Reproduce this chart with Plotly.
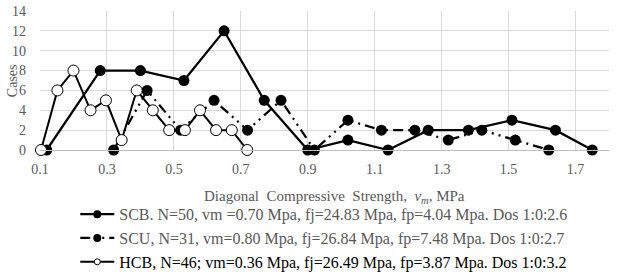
import plotly.graph_objects as go

# ---- data ----
scb_x = [0.12, 0.28, 0.40, 0.53, 0.65, 0.77, 0.90, 1.02, 1.14, 1.26, 1.38, 1.51, 1.64, 1.75]
scb_y = [0, 8, 8, 7, 12, 5, 0, 1, 0, 2, 2, 3, 2, 0]

scu_x = [0.32, 0.42, 0.52, 0.62, 0.72, 0.82, 0.92, 1.02, 1.12, 1.22, 1.32, 1.42, 1.52, 1.62]
scu_y = [0, 6, 2, 5, 2, 5, 0, 3, 2, 2, 1, 2, 1, 0]

hcb_x = [0.103, 0.152, 0.20, 0.251, 0.297, 0.344, 0.389, 0.437, 0.486, 0.533, 0.578, 0.626, 0.673, 0.719]
hcb_y = [0, 6, 8, 4, 5, 1, 6, 4, 2, 2, 4, 2, 2, 0]

names = [
    "<span style='color:#595959'>SCB. N=50, vm =0.70 Mpa, fj=24.83 Mpa, fp=4.04 Mpa. Dos 1:0:2.6</span>",
    "<span style='color:#595959'>SCU, N=31, vm=0.80 Mpa, fj=26.84 Mpa, fp=7.48 Mpa. Dos 1:0:2.7</span>",
    "<span style='color:#000000'>HCB, N=46; vm=0.36 Mpa, fj=26.49 Mpa, fp=3.87 Mpa. Dos 1:0:3.2</span>",
]
x_ticks = [0.1, 0.3, 0.5, 0.7, 0.9, 1.1, 1.3, 1.5, 1.7]
y_ticks = [0, 2, 4, 6, 8, 10, 12, 14]
x_title = "Diagonal\u00a0 Compressive\u00a0 Strength,\u00a0 <i>v<sub>m</sub></i>, MPa"
y_title = "Cases"

FONT = "Liberation Serif, Times New Roman, serif"
GRAY = "#595959"

series = [
    (scb_x, scb_y, names[0], dict(color="black", width=2.25), dict(symbol="circle", size=11, color="black"),
     dict(symbol="circle", size=8, color="black")),
    (scu_x, scu_y, names[1], dict(color="black", width=2.25, dash="10px,5px,2px,5px,2px,5px"),
     dict(symbol="circle", size=11, color="black"), dict(symbol="circle", size=8, color="black")),
    (hcb_x, hcb_y, names[2], dict(color="black", width=2),
     dict(symbol="circle", size=11, color="white", line=dict(color="black", width=1)),
     dict(symbol="circle", size=6, color="white", line=dict(color="black", width=1))),
]

fig = go.Figure()
for i, (xs, ys, nm, ln, mk, lmk) in enumerate(series):
    fig.add_trace(go.Scatter(x=xs, y=ys, name=nm, mode="lines+markers", line=ln, marker=mk,
                             cliponaxis=False, showlegend=False))
    # legend entry (same style, smaller marker as in the reference legend)
    fig.add_trace(go.Scatter(x=[None], y=[None], name=nm, mode="lines+markers", line=ln, marker=lmk,
                             legendgroup=f"g{i}", showlegend=True))

fig.add_annotation(text=x_title, xref="paper", yref="paper", x=0.518, y=-0.338,
                   xanchor="center", yanchor="middle", showarrow=False,
                   font=dict(family=FONT, size=15, color=GRAY))
fig.add_annotation(text=y_title, xref="paper", yref="paper", x=-0.048, y=0.5,
                   xanchor="center", yanchor="middle", showarrow=False, textangle=-90,
                   font=dict(family=FONT, size=14, color=GRAY))

fig.update_layout(
    width=627, height=278,
    margin=dict(l=40, r=18, t=11, b=128, autoexpand=False),
    paper_bgcolor="white", plot_bgcolor="white",
    font=dict(family=FONT, color=GRAY, size=14),
    showlegend=True,
    legend=dict(
        x=0.062, xanchor="left", y=-0.93, yanchor="bottom",
        font=dict(family=FONT, size=16, color=GRAY),
        tracegroupgap=0, bgcolor="rgba(0,0,0,0)", itemwidth=34,
    ),
    xaxis=dict(
        range=[0.1, 1.8], tickvals=x_ticks, ticktext=[str(v) for v in x_ticks],
        showgrid=True, gridcolor="#d9d9d9", gridwidth=1,
        showline=True, linecolor="#bfbfbf", linewidth=1,
        zeroline=False, ticks="", ticklabelstandoff=6, automargin=False,
        tickfont=dict(family=FONT, size=14, color=GRAY),
    ),
    yaxis=dict(
        range=[0, 14], tickvals=y_ticks,
        showgrid=True, gridcolor="#d9d9d9", gridwidth=1,
        zeroline=False, showline=False, ticks="", ticklabelstandoff=13, automargin=False,
        tickfont=dict(family=FONT, size=14, color=GRAY),
    ),
)

fig.write_html("out.html", config={"displayModeBar": False},
               post_script="document.body.style.margin='0';document.body.style.padding='0';")
